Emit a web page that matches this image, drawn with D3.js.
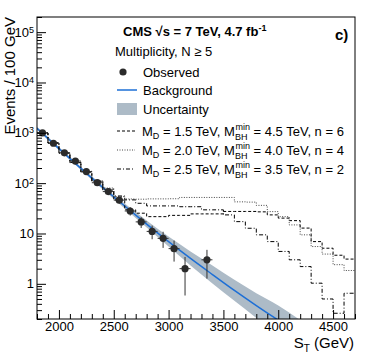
<!DOCTYPE html>
<html>
<head>
<meta charset="utf-8">
<script src="https://cdn.jsdelivr.net/npm/d3@7"></script>
<style>
body { margin: 0; background: #fff; }
text { font-family: "Liberation Sans", Arial, Helvetica, sans-serif; }
</style>
</head>
<body>
<div id="content"></div>
<script>
// observed counts per 100 GeV bin
var obsX = [1850, 1950, 2050, 2150, 2250, 2350, 2450, 2550, 2650, 2750, 2850, 2950, 3050, 3150, 3250, 3350];
var obsN = [1000, 620, 400, 275, 170, 102, 68, 46, 28, 17, 11, 8, 5, 2, 0, 3];

// background fit and its uncertainty band
var bgX    = [1800, 2000, 2200, 2400, 2600, 2800, 3000, 3200, 3400, 3600, 3800, 4000, 4200];
var bgY    = [1228, 486, 197, 81.8, 35.1, 15.4, 6.9, 3.2, 1.53, 0.74, 0.37, 0.19, 0.10];
var bgUp   = [1315, 520, 211, 89.7, 39.3, 18.1, 8.7, 4.4, 2.31, 1.20, 0.65, 0.37, 0.19];
var bgDown = [1147, 454, 184, 74.6, 31.3, 13.1, 5.5, 2.3, 1.01, 0.46, 0.21, 0.098, 0.047];

// signal + background histograms, 100 GeV bins from 1800 to 4700
var binLow = [1800, 1900, 2000, 2100, 2200, 2300, 2400, 2500, 2600, 2700, 2800, 2900, 3000, 3100, 3200,
              3300, 3400, 3500, 3600, 3700, 3800, 3900, 4000, 4100, 4200, 4300, 4400, 4500, 4600];
var sig15 = [990, 625, 395, 255, 165, 108, 73, 46.5, 29.5, 25.3, 21.6, 21.6, 22.9, 22.9, 24.5,
             24.5, 24.5, 27.4, 27.4, 27.4, 26.9, 23.4, 20.2, 18.0, 12.8, 6.9, 5.1, 3.7, 3.1];
var sig20 = [1000, 640, 400, 265, 172, 112, 80, 54, 48.5, 48, 48.7, 48.7, 49, 52, 52,
             52, 52, 52, 42.5, 42, 36.2, 27.2, 21.6, 14.8, 9.4, 5.5, 3.9, 2.4, 1.84];
var sig25 = [995, 630, 398, 258, 168, 110, 76, 55.6, 46.5, 39.8, 35.3, 35.3, 35.3, 34, 34,
             29.5, 29.5, 23.4, 17.2, 12.7, 9.4, 6.9, 4.4, 3.0, 2.2, 1.03, 0.50, 0.26, 0.65];
var binWidth = 100;

var xTicks = [2000, 2500, 3000, 3500, 4000, 4500];
var yTicks = [1, 10, 100, 1000, 10000, 100000];

var W = 374, H = 355;
var L = 37, R = 355, T = 17, B = 319;

var svg = d3.select("#content").append("svg")
    .attr("width", W)
    .attr("height", H);

var x = d3.scaleLinear().domain([1800, 4700]).range([L, R]);
var y = d3.scaleLog().domain([0.2, 2e5]).range([B, T]);

svg.append("clipPath").attr("id", "plotclip")
  .append("rect").attr("x", L).attr("y", T).attr("width", R - L).attr("height", B - T);

var plot = svg.append("g").attr("clip-path", "url(#plotclip)");

//Uncertainty band
var bandData = bgX.map(function(d, i){ return {x: d, lo: bgDown[i], hi: bgUp[i], c: bgY[i]}; });
plot.append("path")
    .datum(bandData)
    .attr("d", d3.area().curve(d3.curveMonotoneX)
        .x(function(d){ return x(d.x); })
        .y0(function(d){ return y(d.lo); })
        .y1(function(d){ return y(d.hi); }))
    .attr("fill", "#adbbc7");

//Background line
plot.append("path")
    .datum(bandData)
    .attr("d", d3.line().curve(d3.curveMonotoneX)
        .x(function(d){ return x(d.x); })
        .y(function(d){ return y(d.c); }))
    .attr("fill", "none")
    .attr("stroke", "#1d6fd6")
    .attr("stroke-width", 1.5);

//Signal histograms
var hists = [
  {vals: sig15, dash: "3,2", color: "#000"},
  {vals: sig20, dash: "1,1.5", color: "#444"},
  {vals: sig25, dash: "4,2,1,2", color: "#000"}
];
hists.forEach(function(h){
  var pts = binLow.map(function(b, i){ return [b, h.vals[i]]; });
  pts.push([binLow[binLow.length - 1] + binWidth, h.vals[h.vals.length - 1]]);
  plot.append("path")
      .attr("d", d3.line().curve(d3.curveStepAfter)
          .x(function(d){ return x(d[0]); })
          .y(function(d){ return y(d[1]); })(pts))
      .attr("fill", "none")
      .attr("stroke", h.color)
      .attr("stroke-width", 1)
      .attr("stroke-dasharray", h.dash);
});

//Observed points with errors
var obs = obsX.map(function(d, i){ return {x: d, n: obsN[i]}; }).filter(function(d){ return d.n > 0; });
var pg = plot.append("g").attr("stroke", "#333").attr("stroke-width", 1);
obs.forEach(function(d){
  var e = Math.sqrt(d.n);
  pg.append("line")
      .attr("x1", x(d.x)).attr("x2", x(d.x))
      .attr("y1", y(Math.max(d.n - e, 0.01))).attr("y2", y(d.n + e));
  pg.append("line")
      .attr("x1", x(d.x - binWidth / 2)).attr("x2", x(d.x + binWidth / 2))
      .attr("y1", y(d.n)).attr("y2", y(d.n));
});
plot.append("g").selectAll("circle").data(obs).enter().append("circle")
    .attr("cx", function(d){ return x(d.x); })
    .attr("cy", function(d){ return y(d.n); })
    .attr("r", 3.6)
    .attr("fill", "#2b2b2b");

//Axes
var xMinor = d3.range(1800, 4701, 100).filter(function(v){ return v % 500 !== 0; });
svg.append("g")
    .attr("transform", "translate(0," + B + ")")
    .call(d3.axisBottom(x).tickValues(xMinor).tickSizeInner(-5).tickSizeOuter(0).tickFormat(""))
    .call(function(g){ g.select(".domain").remove(); });
var xAxis = svg.append("g")
    .attr("transform", "translate(0," + B + ")")
    .call(d3.axisBottom(x).tickValues(xTicks).tickSizeInner(-9).tickSizeOuter(0).tickPadding(3).tickFormat(d3.format("d")));
xAxis.select(".domain").remove();
xAxis.selectAll("text").attr("font-size", 13).attr("fill", "#000").attr("font-family", null);

var yMinor = [];
[0.1, 1, 10, 100, 1000, 10000, 100000].forEach(function(dec){
  for (var k = 2; k <= 9; k++) {
    var v = dec * k;
    if (v >= 0.2 && v <= 2e5) yMinor.push(v);
  }
});
svg.append("g")
    .attr("transform", "translate(" + L + ",0)")
    .call(d3.axisLeft(y).tickValues(yMinor).tickSizeInner(-5).tickSizeOuter(0).tickFormat(""))
    .call(function(g){ g.select(".domain").remove(); });
var yAxis = svg.append("g")
    .attr("transform", "translate(" + L + ",0)")
    .call(d3.axisLeft(y).tickValues(yTicks).tickSizeInner(-9).tickSizeOuter(0).tickPadding(3).tickFormat(""));
yAxis.select(".domain").remove();
yAxis.selectAll(".tick text").each(function(d){
  var t = d3.select(this).attr("font-size", 13).attr("fill", "#000").attr("font-family", null);
  var p = Math.round(Math.log10(d));
  if (p === 0) t.text("1");
  else if (p === 1) t.text("10");
  else {
    t.append("tspan").text("10");
    t.append("tspan").attr("dy", "-0.45em").attr("font-size", 9).text(p);
  }
});

//Frame
svg.append("rect")
    .attr("x", L).attr("y", T).attr("width", R - L).attr("height", B - T)
    .attr("fill", "none").attr("stroke", "#000").attr("stroke-width", 1);

//Axis titles
var yt = svg.append("text")
    .attr("transform", "translate(15," + T + ") rotate(-90)")
    .attr("text-anchor", "end")
    .attr("font-size", 15)
    .text("Events / 100 GeV");
var xt = svg.append("text")
    .attr("x", 354).attr("y", 348)
    .attr("text-anchor", "end")
    .attr("font-size", 15);
xt.append("tspan").text("S");
xt.append("tspan").attr("font-size", 10).attr("dy", 4).text("T");
xt.append("tspan").attr("dy", -4).text(" (GeV)");

//Header
var hd = svg.append("text").attr("x", 123).attr("y", 36).attr("font-size", 13).attr("font-weight", "bold");
hd.append("tspan").text("CMS \u221As = 7 TeV, 4.7 fb");
hd.append("tspan").attr("dy", -5).attr("font-size", 9).text("-1");
svg.append("text").attr("x", 335).attr("y", 40).attr("font-size", 15).attr("font-weight", "bold").text("c)");
svg.append("text").attr("x", 115).attr("y", 56).attr("font-size", 13).text("Multiplicity, N \u2265 5");

//Legend
var lg = svg.append("g");
lg.append("circle").attr("cx", 123).attr("cy", 72).attr("r", 3.6).attr("fill", "#2b2b2b");
lg.append("text").attr("x", 143).attr("y", 76.5).attr("font-size", 13).text("Observed");
lg.append("line").attr("x1", 117).attr("x2", 137).attr("y1", 90).attr("y2", 90)
    .attr("stroke", "#1d6fd6").attr("stroke-width", 1.5);
lg.append("text").attr("x", 143).attr("y", 94.5).attr("font-size", 13).text("Background");
lg.append("rect").attr("x", 117).attr("y", 103).attr("width", 20).attr("height", 12).attr("fill", "#adbbc7");
lg.append("text").attr("x", 143).attr("y", 113.5).attr("font-size", 13).text("Uncertainty");

var sigLegend = [
  {md: "1.5", mbh: "4.5", n: "6", yy: 131},
  {md: "2.0", mbh: "4.0", n: "4", yy: 150},
  {md: "2.5", mbh: "3.5", n: "2", yy: 169}
];
sigLegend.forEach(function(s, i){
  lg.append("line").attr("x1", 117).attr("x2", 135).attr("y1", s.yy).attr("y2", s.yy)
      .attr("stroke", hists[i].color).attr("stroke-width", 1).attr("stroke-dasharray", hists[i].dash);
  var t = lg.append("text").attr("x", 142).attr("y", s.yy + 4.5).attr("font-size", 13);
  t.append("tspan").text("M");
  t.append("tspan").attr("font-size", 9).attr("dy", 3).text("D");
  t.append("tspan").attr("dy", -3).text(" = " + s.md + " TeV, M");
  t.append("tspan").attr("font-size", 9).attr("dy", 4).text("BH");
  t.append("tspan").attr("font-size", 9).attr("dx", -12).attr("dy", -10).text("min");
  t.append("tspan").attr("dy", 6).text(" = " + s.mbh + " TeV, n = " + s.n);
});
</script>
</body>
</html>
